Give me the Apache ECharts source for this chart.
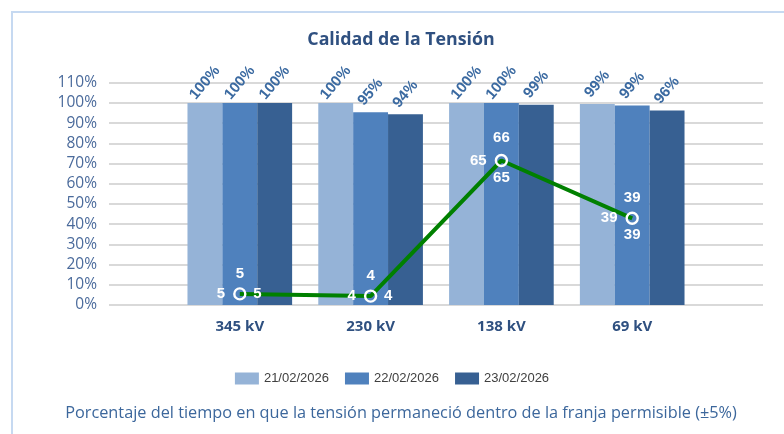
<!DOCTYPE html>
<html><head><meta charset="utf-8">
<script src="https://cdn.jsdelivr.net/npm/echarts@6/dist/echarts.min.js"></script>
<style>html,body{margin:0;padding:0;background:#fff}#c{width:784px;height:434px}</style>
</head><body><div id="c"></div>
<script>
const categories = ['345 kV', '230 kV', '138 kV', '69 kV'];
const dates = ['21/02/2026', '22/02/2026', '23/02/2026'];
const bars21 = [100, 100, 100, 99.4];
const bars22 = [100, 95.4, 100, 98.7];
const bars23 = [100, 94.4, 99.1, 96.3];
const lineLeft = [5, 4, 65, 39];
const lineTop = [5, 4, 66, 39];
const lineOther = [5, 4, 65, 39];
const yTicks = [0, 110, 10];

const barColors = ['#95b3d7', '#4f81bd', '#376092'];
const pad = arr => [null, ...arr, null];
const axisCats = ['', ...categories, ''];

const barSeries = [bars21, bars22, bars23].map((d, i) => ({
  name: dates[i], type: 'bar', data: pad(d), yAxisIndex: 0,
  barGap: 0, barCategoryGap: '20%',
  itemStyle: { color: barColors[i] },
  label: {
    show: true, position: 'top', distance: 20, rotate: 50,
    align: 'center', verticalAlign: 'middle',
    formatter: p => Math.round(p.value) + '%',
    color: '#3b6aa1', fontFamily: 'Liberation Sans', fontWeight: 'bold', fontSize: 15
  }
}));

const lblFont = { color: '#fff', fontFamily: 'Liberation Sans', fontWeight: 'bold', fontSize: 15 };

const lineMain = {
  name: 'linea', type: 'line', data: pad(lineLeft), yAxisIndex: 1, z: 5,
  symbol: 'circle', symbolSize: 11,
  lineStyle: { color: '#008000', width: 4 },
  itemStyle: { color: 'rgba(0,0,0,0)', borderColor: '#fff', borderWidth: 2.4 },
  label: Object.assign({ show: true, position: 'left', distance: 8 }, lblFont)
};
const lineTopS = {
  name: 'top', type: 'line', data: pad(lineTop), yAxisIndex: 1, z: 6,
  symbol: 'circle', symbolSize: 1, lineStyle: { opacity: 0 },
  itemStyle: { color: 'rgba(0,0,0,0)' },
  label: Object.assign({ show: true, position: 'top', distance: 12 }, lblFont)
};
const otherData = pad(lineOther).map((v, i) => v == null ? null : {
  value: v,
  label: { position: i <= 2 ? 'right' : 'bottom', distance: i <= 2 ? 13 : 9 }
});
const lineOtherS = {
  name: 'other', type: 'line', data: otherData, yAxisIndex: 1, z: 6,
  symbol: 'circle', symbolSize: 1, lineStyle: { opacity: 0 },
  itemStyle: { color: 'rgba(0,0,0,0)' },
  label: Object.assign({ show: true }, lblFont)
};

const chart = echarts.init(document.getElementById('c'), null, { renderer: 'canvas' });
chart.setOption({
  animation: false,
  backgroundColor: '#fff',
  grid: { left: 109, right: 21, top: 82.7, bottom: 129, containLabel: false },
  legend: {
    data: dates, top: 367, left: 'center', itemWidth: 24, itemHeight: 12, itemGap: 16,
    icon: 'rect',
    textStyle: { color: '#404040', fontFamily: 'Liberation Sans', fontSize: 13 }
  },
  xAxis: {
    type: 'category', data: axisCats, boundaryGap: false,
    axisLine: { show: false }, axisTick: { show: false }, splitLine: { show: false },
    axisLabel: { margin: 14, color: '#2f5080', fontFamily: 'Open Sans', fontWeight: 'bold', fontSize: 15 }
  },
  yAxis: [{
    type: 'value', min: yTicks[0], max: yTicks[1], interval: yTicks[2],
    axisLine: { show: false }, axisTick: { show: false },
    splitLine: { lineStyle: { color: '#d9d9d9', width: 2 } },
    axisLabel: { formatter: '{value}%', margin: 12, color: '#4a6a9b', fontFamily: 'Open Sans', fontSize: 15.5 }
  }, {
    type: 'value', min: 0, max: 100, show: false, splitLine: { show: false }
  }],
  graphic: [
    { type: 'rect', shape: { x: 12, y: 12, width: 820, height: 480 }, style: { fill: 'none', stroke: '#c6d9f1', lineWidth: 2 }, silent: true },
    { type: 'text', x: 401, y: 40, style: { text: 'Calidad de la Tensión', textAlign: 'center', textVerticalAlign: 'middle', fill: '#2f5080', font: 'bold 17.8px "Open Sans"' } },
    { type: 'text', x: 401, y: 413, style: { text: 'Porcentaje del tiempo en que la tensión permaneció dentro de la franja permisible (±5%)', textAlign: 'center', textVerticalAlign: 'middle', fill: '#3c679c', font: '16.3px "Open Sans"' } }
  ],
  series: [...barSeries, lineMain, lineTopS, lineOtherS]
});
</script></body></html>
